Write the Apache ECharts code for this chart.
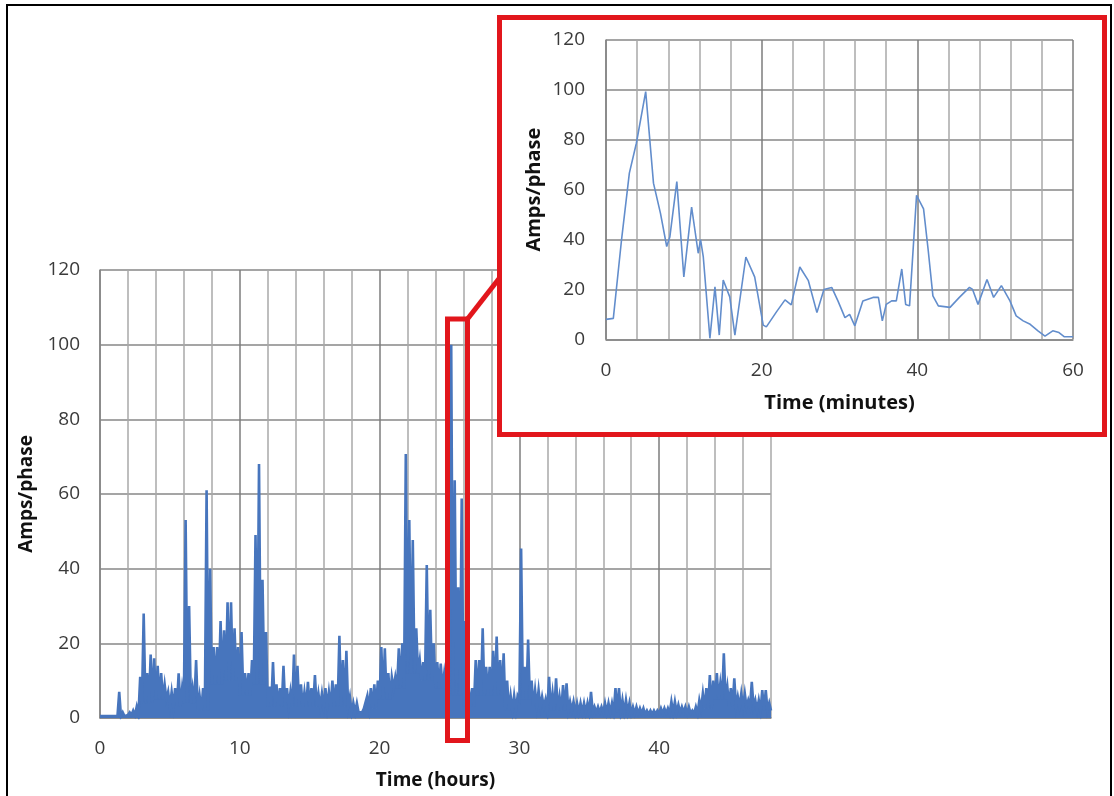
<!DOCTYPE html>
<html>
<head>
<meta charset="utf-8">
<script src="https://cdn.jsdelivr.net/npm/echarts@6/dist/echarts.min.js"></script>
<style>
  html, body { margin: 0; padding: 0; background: #ffffff; }
  #chart { width: 1114px; height: 796px; }
</style>
</head>
<body>
<div id="chart"></div>
<script>
// ---------------- DATA ----------------
// Main chart: peak reading in each quarter-hour slot (0 .. 48 h)
const hourSlot = 0.25;
const hoursPeak = [
  1, 1, 1, 1, 1, 7, 1.5, 1, 1.5, 2,
  3, 11, 28, 12, 17, 16, 14, 12, 9, 7,
  7, 8, 12, 8, 53, 30, 8, 15.5, 6, 8,
  61, 40, 19, 19, 26, 23.5, 31, 31, 24, 19,
  23, 12, 12, 15.5, 49, 68, 37, 23, 8.4, 15,
  9, 8, 14, 8, 7, 17, 14, 9, 7, 9.7,
  8, 11.5, 6.6, 6.6, 8, 7, 10, 9, 22, 15.5,
  18, 5.7, 4, 4, 2, 2.5, 6, 8, 9, 10,
  19, 18.7, 12, 11, 11, 18.7, 20, 70.7, 53, 47.7,
  24, 15.5, 15, 41, 29, 20, 15, 14.6, 12, 12,
  100, 63.7, 35, 58.8, 26, 8, 8, 15.5, 15.5, 24,
  13.7, 13.7, 18, 21.8, 15.5, 17.3, 10, 6, 6, 6,
  45.4, 13.7, 21, 10, 7.5, 7.5, 5.7, 5, 11, 6.6,
  10.6, 5.7, 8.8, 9.3, 4.4, 4.4, 4, 4, 4, 4,
  7, 3, 3, 3, 4, 4, 4, 8, 8, 4.8,
  4.8, 4, 3, 3, 2.6, 2.6, 2, 2, 2, 2,
  2.6, 2.6, 2.6, 4.4, 4.4, 3.5, 3, 3, 3, 2,
  3, 4.8, 6.6, 8, 11.5, 10, 12, 9.3, 17.3, 8.4,
  8, 10.6, 5.7, 6.6, 6.6, 4.8, 9.7, 4.8, 4.8, 7.5,
  7.5, 4
];
// Main chart: base (trough) level for each hour 0..47
const hoursBase = [
  0.5, 0.5, 0.8, 4, 5, 3, 4, 2, 9, 10,
  6, 9, 3, 3, 3, 3, 3, 3, 1.5, 2.5,
  5, 8, 12, 10, 8, 6, 3, 6, 6, 2,
  5, 3, 2, 2, 1.5, 1.5, 1.5, 1.5, 1.2, 1,
  1.2, 1.5, 1.2, 2.5, 5, 3, 3, 2
];
// Inset: one hour in minutes
const insetMinutes = [0,0.94,2.0,3.0,3.9,5.1,6.1,7.0,7.8,8.2,9.1,10.0,11.0,11.85,12.15,12.5,13.35,14.0,14.55,15.06,15.9,16.56,17.97,19.1,20.2,20.6,21.9,23.0,23.8,24.9,26.0,27.1,28.0,29.0,29.8,30.7,31.3,31.97,33.0,34.3,35.0,35.5,36.0,36.7,37.3,38.0,38.5,39.0,39.9,40.8,41.4,42.0,42.7,44.2,45.4,46.7,47.1,47.8,48.95,49.8,50.8,51.9,52.7,53.6,54.5,55.5,56.4,57.4,58.2,58.9,60];
const insetAmps = [8,8.4,40,66.6,78.6,99.3,62.6,50.5,37.2,41,63.2,25,53,34.5,40,33,0.4,21,1.7,23.8,17,1.7,33,25,5.7,5,11,15.8,13.8,29,23.5,10.7,20,20.8,15.4,8.7,10,5.4,15.4,16.8,16.8,7.4,14,15.4,15.4,28.2,14,13.4,57.7,52.3,35.6,17.4,13.4,12.8,16.8,20.8,20,14,24,16.8,21.5,15.4,9.4,7.4,6,3.4,1.3,3.4,2.7,1,1];

const mainXTicks = [0, 10, 20, 30, 40];
const insetXTicks = [0, 20, 40, 60];
const yTicks = [0, 20, 40, 60, 80, 100, 120];

const mainXName = 'Time (hours)';
const insetXName = 'Time (minutes)';
const yName = 'Amps/phase';

// ---------------- BUILD ----------------
const mainData = [];
for (let i = 0; i < hoursPeak.length; i++) {
  const t = i * hourSlot;
  mainData.push([t, Math.min(hoursBase[Math.floor(t)], hoursPeak[i])]);
  mainData.push([t + hourSlot / 2, hoursPeak[i]]);
}
mainData.push([48, hoursBase[hoursBase.length - 1]]);

const insetData = insetMinutes.map((m, i) => [m, insetAmps[i]]);

const FONT = 'Open Sans';
const RED = '#e2161c';
const GRID_H = '#878787';
const GRID_MAJOR = '#7d7d7d';
const GRID_MINOR = '#a9a9a9';
const LABEL = '#3a3a3a';
const BLUE = '#4775bd';

function xLabelFormatter(ticks) {
  return v => (ticks.indexOf(Math.round(v)) >= 0 && Math.abs(v - Math.round(v)) < 1e-6) ? String(Math.round(v)) : '';
}

const chart = echarts.init(document.getElementById('chart'), null, { renderer: 'canvas' });
chart.setOption({
  animation: false,
  backgroundColor: '#ffffff',
  textStyle: { fontFamily: FONT },
  grid: [
    { left: 100, top: 270, width: 671, height: 448, containLabel: false },
    { left: 606, top: 40, width: 467, height: 299.3, containLabel: false, z: 60 }
  ],
  xAxis: [
    {
      gridIndex: 0, type: 'value', min: 0, max: 48, interval: 2, z: 0,
      name: mainXName, nameLocation: 'middle', nameGap: 53,
      nameTextStyle: { fontFamily: FONT, fontWeight: 'bold', fontSize: 19, color: '#111' },
      axisLine: { show: true, lineStyle: { color: GRID_H, width: 1.5 } },
      axisTick: { show: false },
      axisLabel: { formatter: xLabelFormatter(mainXTicks), fontFamily: FONT, fontSize: 19, color: LABEL, margin: 21 },
      splitLine: { show: true, lineStyle: { color: [GRID_MAJOR, GRID_MINOR, GRID_MINOR, GRID_MINOR, GRID_MINOR], width: 1.5 } }
    },
    {
      gridIndex: 1, type: 'value', min: 0, max: 60, interval: 4, z: 60,
      name: insetXName, nameLocation: 'middle', nameGap: 54,
      nameTextStyle: { fontFamily: FONT, fontWeight: 'bold', fontSize: 20, color: '#111' },
      axisLine: { show: true, lineStyle: { color: GRID_H, width: 1.5 } },
      axisTick: { show: false },
      axisLabel: { formatter: xLabelFormatter(insetXTicks), fontFamily: FONT, fontSize: 19, color: LABEL, margin: 22 },
      splitLine: { show: true, lineStyle: { color: [GRID_MAJOR, GRID_MINOR, GRID_MINOR, GRID_MINOR, GRID_MINOR], width: 1.5 } }
    }
  ],
  yAxis: [
    {
      gridIndex: 0, type: 'value', min: yTicks[0], max: yTicks[yTicks.length - 1], interval: 20, z: 0,
      name: yName, nameLocation: 'middle', nameGap: 60,
      nameTextStyle: { fontFamily: FONT, fontWeight: 'bold', fontSize: 19, color: '#111' },
      axisLine: { show: true, lineStyle: { color: GRID_H, width: 1.5 } },
      axisTick: { show: false },
      axisLabel: { fontFamily: FONT, fontSize: 19, color: LABEL, margin: 20 },
      splitLine: { show: true, lineStyle: { color: GRID_H, width: 1.5 } }
    },
    {
      gridIndex: 1, type: 'value', min: yTicks[0], max: yTicks[yTicks.length - 1], interval: 20, z: 60,
      name: yName, nameLocation: 'middle', nameGap: 62,
      nameTextStyle: { fontFamily: FONT, fontWeight: 'bold', fontSize: 20, color: '#111' },
      axisLine: { show: true, lineStyle: { color: GRID_H, width: 1.5 } },
      axisTick: { show: false },
      axisLabel: { fontFamily: FONT, fontSize: 19, color: LABEL, margin: 21 },
      splitLine: { show: true, lineStyle: { color: GRID_H, width: 1.5 } }
    }
  ],
  series: [
    {
      type: 'line', xAxisIndex: 0, yAxisIndex: 0, z: 5,
      data: mainData, showSymbol: false, symbol: 'none', sampling: null,
      lineStyle: { color: BLUE, width: 2.6, join: 'miter' },
      areaStyle: { color: BLUE, opacity: 1 }
    },
    {
      type: 'line', xAxisIndex: 1, yAxisIndex: 1, z: 70,
      data: insetData, showSymbol: false, symbol: 'none',
      lineStyle: { color: '#628dcc', width: 1.6 }
    }
  ],
  graphic: [
    { type: 'rect', z: 1, silent: true, shape: { x: 7, y: 5, width: 1104, height: 820 },
      style: { fill: 'transparent', stroke: '#000', lineWidth: 2 } },
    { type: 'rect', z: 50, silent: true, shape: { x: 499.5, y: 17.5, width: 605, height: 417 },
      style: { fill: '#ffffff', stroke: RED, lineWidth: 5 } },
    { type: 'rect', z: 50, silent: true, shape: { x: 447.5, y: 319, width: 20, height: 421.5 },
      style: { fill: 'transparent', stroke: RED, lineWidth: 5 } },
    { type: 'line', z: 50, silent: true, shape: { x1: 467.5, y1: 319, x2: 499.5, y2: 278 },
      style: { stroke: RED, lineWidth: 5 } }
  ]
});
</script>
</body>
</html>
